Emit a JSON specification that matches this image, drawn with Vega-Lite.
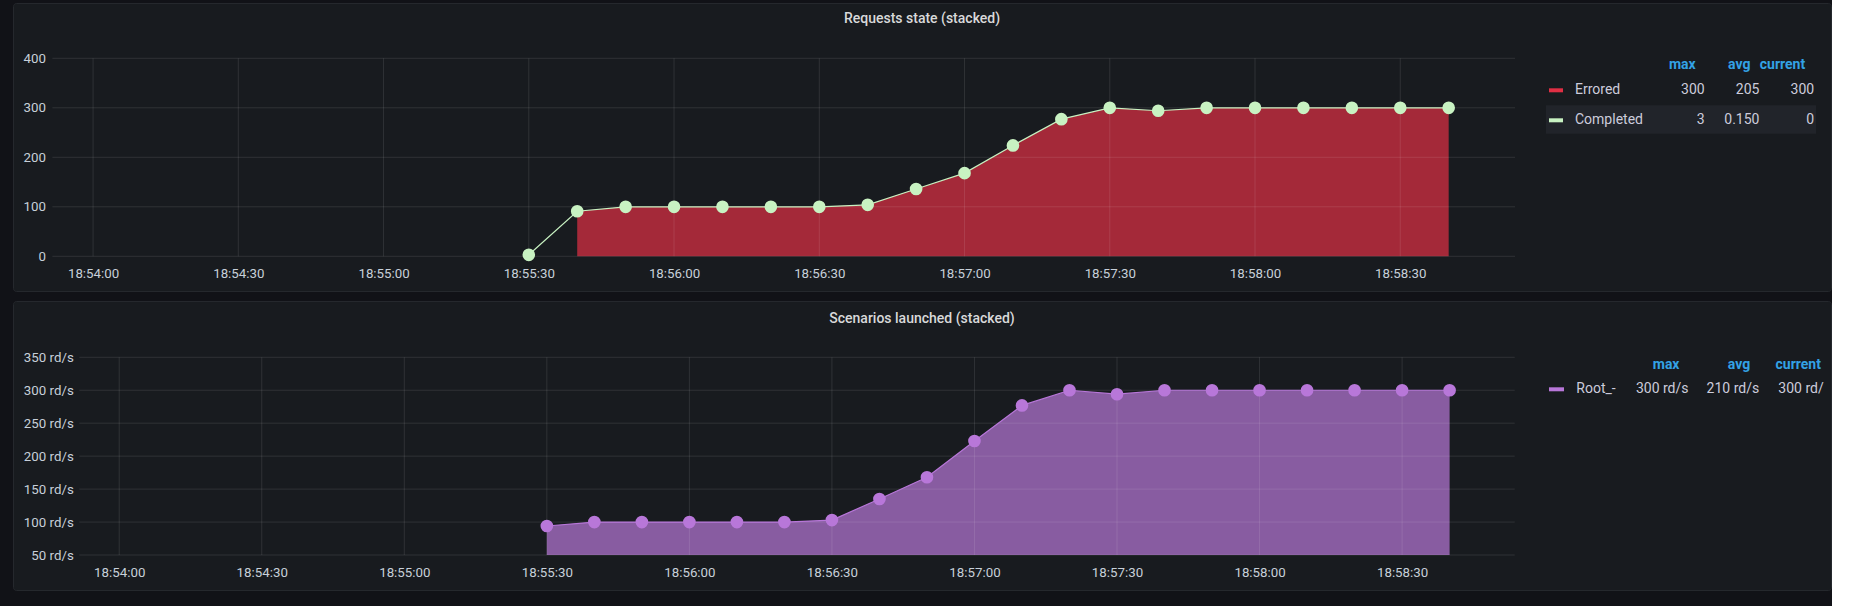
{
  "$schema": "https://vega.github.io/schema/vega-lite/v6.json",
  "background": "#111217",
  "padding": {"left": 12, "top": 2, "right": 0, "bottom": 0},
  "spacing": 8,
  "datasets": {
    "req": [
      {"t": "2021-06-01T18:55:30", "series": "Completed", "v": 3},
      {"t": "2021-06-01T18:55:40", "series": "Errored", "v": 91},
      {"t": "2021-06-01T18:55:50", "series": "Errored", "v": 100},
      {"t": "2021-06-01T18:56:00", "series": "Errored", "v": 100},
      {"t": "2021-06-01T18:56:10", "series": "Errored", "v": 100},
      {"t": "2021-06-01T18:56:20", "series": "Errored", "v": 100},
      {"t": "2021-06-01T18:56:30", "series": "Errored", "v": 100},
      {"t": "2021-06-01T18:56:40", "series": "Errored", "v": 104},
      {"t": "2021-06-01T18:56:50", "series": "Errored", "v": 136},
      {"t": "2021-06-01T18:57:00", "series": "Errored", "v": 168},
      {"t": "2021-06-01T18:57:10", "series": "Errored", "v": 224},
      {"t": "2021-06-01T18:57:20", "series": "Errored", "v": 277},
      {"t": "2021-06-01T18:57:30", "series": "Errored", "v": 300},
      {"t": "2021-06-01T18:57:40", "series": "Errored", "v": 294},
      {"t": "2021-06-01T18:57:50", "series": "Errored", "v": 300},
      {"t": "2021-06-01T18:58:00", "series": "Errored", "v": 300},
      {"t": "2021-06-01T18:58:10", "series": "Errored", "v": 300},
      {"t": "2021-06-01T18:58:20", "series": "Errored", "v": 300},
      {"t": "2021-06-01T18:58:30", "series": "Errored", "v": 300},
      {"t": "2021-06-01T18:58:40", "series": "Errored", "v": 300},
      {"t": "2021-06-01T18:55:40", "series": "Completed", "v": 0},
      {"t": "2021-06-01T18:55:50", "series": "Completed", "v": 0},
      {"t": "2021-06-01T18:56:00", "series": "Completed", "v": 0},
      {"t": "2021-06-01T18:56:10", "series": "Completed", "v": 0},
      {"t": "2021-06-01T18:56:20", "series": "Completed", "v": 0},
      {"t": "2021-06-01T18:56:30", "series": "Completed", "v": 0},
      {"t": "2021-06-01T18:56:40", "series": "Completed", "v": 0},
      {"t": "2021-06-01T18:56:50", "series": "Completed", "v": 0},
      {"t": "2021-06-01T18:57:00", "series": "Completed", "v": 0},
      {"t": "2021-06-01T18:57:10", "series": "Completed", "v": 0},
      {"t": "2021-06-01T18:57:20", "series": "Completed", "v": 0},
      {"t": "2021-06-01T18:57:30", "series": "Completed", "v": 0},
      {"t": "2021-06-01T18:57:40", "series": "Completed", "v": 0},
      {"t": "2021-06-01T18:57:50", "series": "Completed", "v": 0},
      {"t": "2021-06-01T18:58:00", "series": "Completed", "v": 0},
      {"t": "2021-06-01T18:58:10", "series": "Completed", "v": 0},
      {"t": "2021-06-01T18:58:20", "series": "Completed", "v": 0},
      {"t": "2021-06-01T18:58:30", "series": "Completed", "v": 0},
      {"t": "2021-06-01T18:58:40", "series": "Completed", "v": 0}
    ],
    "scen": [
      {"t": "2021-06-01T18:55:30", "v": 94},
      {"t": "2021-06-01T18:55:40", "v": 100},
      {"t": "2021-06-01T18:55:50", "v": 100},
      {"t": "2021-06-01T18:56:00", "v": 100},
      {"t": "2021-06-01T18:56:10", "v": 100},
      {"t": "2021-06-01T18:56:20", "v": 100},
      {"t": "2021-06-01T18:56:30", "v": 103},
      {"t": "2021-06-01T18:56:40", "v": 135},
      {"t": "2021-06-01T18:56:50", "v": 168},
      {"t": "2021-06-01T18:57:00", "v": 223},
      {"t": "2021-06-01T18:57:10", "v": 277},
      {"t": "2021-06-01T18:57:20", "v": 300},
      {"t": "2021-06-01T18:57:30", "v": 294},
      {"t": "2021-06-01T18:57:40", "v": 300},
      {"t": "2021-06-01T18:57:50", "v": 300},
      {"t": "2021-06-01T18:58:00", "v": 300},
      {"t": "2021-06-01T18:58:10", "v": 300},
      {"t": "2021-06-01T18:58:20", "v": 300},
      {"t": "2021-06-01T18:58:30", "v": 300},
      {"t": "2021-06-01T18:58:40", "v": 300}
    ],
    "xticks": [
      {"t": "2021-06-01T18:54:00"}, {"t": "2021-06-01T18:54:30"},
      {"t": "2021-06-01T18:55:00"}, {"t": "2021-06-01T18:55:30"},
      {"t": "2021-06-01T18:56:00"}, {"t": "2021-06-01T18:56:30"},
      {"t": "2021-06-01T18:57:00"}, {"t": "2021-06-01T18:57:30"},
      {"t": "2021-06-01T18:58:00"}, {"t": "2021-06-01T18:58:30"}
    ],
    "yticks1": [{"v": 0}, {"v": 100}, {"v": 200}, {"v": 300}, {"v": 400}],
    "yticks2": [{"v": 50}, {"v": 100}, {"v": 150}, {"v": 200}, {"v": 250}, {"v": 300}, {"v": 350}],
    "leg1": [
      {"row": "header", "col": "max", "text": "max"},
      {"row": "header", "col": "avg", "text": "avg"},
      {"row": "header", "col": "current", "text": "current"},
      {"row": "Errored", "col": "name", "text": "Errored"},
      {"row": "Errored", "col": "max", "text": "300"},
      {"row": "Errored", "col": "avg", "text": "205"},
      {"row": "Errored", "col": "current", "text": "300"},
      {"row": "Completed", "col": "name", "text": "Completed"},
      {"row": "Completed", "col": "max", "text": "3"},
      {"row": "Completed", "col": "avg", "text": "0.150"},
      {"row": "Completed", "col": "current", "text": "0"}
    ],
    "leg2": [
      {"row": "header", "col": "max", "text": "max"},
      {"row": "header", "col": "avg", "text": "avg"},
      {"row": "header", "col": "current", "text": "current"},
      {"row": "Root_-", "col": "name", "text": "Root_-"},
      {"row": "Root_-", "col": "max", "text": "300 rd/s"},
      {"row": "Root_-", "col": "avg", "text": "210 rd/s"},
      {"row": "Root_-", "col": "current", "text": "300 rd/s"}
    ]
  },
  "vconcat": [
    {
      "width": 1818,
      "height": 288,
      "title": {"text": "Requests state (stacked)", "offset": -23},
      "resolve": {"scale": {"x": "independent", "y": "independent"}, "axis": {"x": "independent", "y": "independent"}},
      "layer": [
        {
          "layer": [
            {
              "data": {"name": "req"},
              "transform": [
                {"stack": "v", "groupby": ["t"], "sort": [{"field": "series", "order": "descending"}], "as": ["v0", "v1"]},
                {"filter": "datum.series == 'Errored'"}
              ],
              "mark": {"type": "area", "color": "#E02F44", "fillOpacity": 0.7, "opacity": 1},
              "encoding": {
                "x": {"field": "t", "type": "temporal",
                  "scale": {"domain": [{"year": 2021, "month": 6, "date": 1, "hours": 18, "minutes": 53, "seconds": 51, "milliseconds": 600}, {"year": 2021, "month": 6, "date": 1, "hours": 18, "minutes": 58, "seconds": 53, "milliseconds": 700}], "range": [39.4, 1502]},
                  "axis": {"title": null, "format": "%H:%M:%S", "offset": -34.7, "labelPadding": 10,
                    "values": [
                      {"year": 2021, "month": 6, "date": 1, "hours": 18, "minutes": 54, "seconds": 0},
                      {"year": 2021, "month": 6, "date": 1, "hours": 18, "minutes": 54, "seconds": 30},
                      {"year": 2021, "month": 6, "date": 1, "hours": 18, "minutes": 55, "seconds": 0},
                      {"year": 2021, "month": 6, "date": 1, "hours": 18, "minutes": 55, "seconds": 30},
                      {"year": 2021, "month": 6, "date": 1, "hours": 18, "minutes": 56, "seconds": 0},
                      {"year": 2021, "month": 6, "date": 1, "hours": 18, "minutes": 56, "seconds": 30},
                      {"year": 2021, "month": 6, "date": 1, "hours": 18, "minutes": 57, "seconds": 0},
                      {"year": 2021, "month": 6, "date": 1, "hours": 18, "minutes": 57, "seconds": 30},
                      {"year": 2021, "month": 6, "date": 1, "hours": 18, "minutes": 58, "seconds": 0},
                      {"year": 2021, "month": 6, "date": 1, "hours": 18, "minutes": 58, "seconds": 30}
                    ]}},
                "y": {"field": "v1", "type": "quantitative",
                  "scale": {"domain": [0, 400], "range": [253.3, 55.3], "nice": false, "zero": false},
                  "axis": {"title": null, "values": [0, 100, 200, 300, 400], "offset": -39.4, "labelPadding": 7}},
                "y2": {"field": "v0"}
              }
            },
            {
              "data": {"name": "xticks"},
              "mark": {"type": "rule", "color": "#ffffff", "opacity": 0.1, "strokeWidth": 1},
              "encoding": {
                "x": {"field": "t", "type": "temporal"},
                "y": {"datum": 0, "type": "quantitative"},
                "y2": {"datum": 400}
              }
            },
            {
              "data": {"name": "yticks1"},
              "mark": {"type": "rule", "color": "#ffffff", "opacity": 0.1, "strokeWidth": 1},
              "encoding": {
                "y": {"field": "v", "type": "quantitative"},
                "x": {"datum": {"year": 2021, "month": 6, "date": 1, "hours": 18, "minutes": 53, "seconds": 51, "milliseconds": 600}, "type": "temporal"},
                "x2": {"datum": {"year": 2021, "month": 6, "date": 1, "hours": 18, "minutes": 58, "seconds": 53, "milliseconds": 700}}
              }
            },
            {
              "data": {"name": "req"},
              "transform": [
                {"stack": "v", "groupby": ["t"], "sort": [{"field": "series", "order": "descending"}], "as": ["v0", "v1"]},
                {"filter": "datum.series == 'Completed'"}
              ],
              "mark": {"type": "line", "color": "#C8F2C2", "strokeWidth": 1.2},
              "encoding": {
                "x": {"field": "t", "type": "temporal"},
                "y": {"field": "v1", "type": "quantitative"}
              }
            },
            {
              "data": {"name": "req"},
              "transform": [
                {"stack": "v", "groupby": ["t"], "sort": [{"field": "series", "order": "descending"}], "as": ["v0", "v1"]},
                {"filter": "datum.series == 'Completed'"}
              ],
              "mark": {"type": "point", "filled": true, "color": "#C8F2C2", "opacity": 1, "size": 160},
              "encoding": {
                "x": {"field": "t", "type": "temporal"},
                "y": {"field": "v1", "type": "quantitative"}
              }
            }
          ]
        },
        {
          "layer": [
            {
              "data": {"values": [{"row": "Completed", "from": "name", "to": "current"}]},
              "mark": {"type": "rule", "color": "#21242a", "strokeWidth": 28.4, "xOffset": -104, "x2Offset": 1.8, "yOffset": -0.8},
              "encoding": {
                "x": {"field": "from", "type": "nominal", "scale": {"type": "point", "domain": ["name", "max", "avg", "current"], "range": [1637, 1801.2], "padding": 0}, "axis": null},
                "x2": {"field": "to"},
                "y": {"field": "row", "type": "nominal", "scale": {"type": "point", "domain": ["header", "Errored", "Completed"], "range": [57.3, 117.3], "padding": 0}, "axis": null}
              }
            },
            {
              "data": {"name": "leg1"},
              "transform": [{"filter": "datum.col == 'name'"}],
              "mark": {"type": "rule", "strokeWidth": 4, "xOffset": -101, "x2Offset": -87},
              "encoding": {
                "x": {"field": "col", "type": "nominal"},
                "x2": {"field": "col"},
                "y": {"field": "row", "type": "nominal"},
                "color": {"field": "row", "type": "nominal", "scale": {"domain": ["Errored", "Completed"], "range": ["#E02F44", "#C8F2C2"]}, "legend": null}
              }
            },
            {
              "data": {"name": "leg1"},
              "transform": [{"filter": "datum.col == 'name'"}],
              "mark": {"type": "text", "align": "left", "baseline": "middle", "dx": -75, "fontSize": 14, "color": "#ccccdc"},
              "encoding": {
                "x": {"field": "col", "type": "nominal"},
                "y": {"field": "row", "type": "nominal"},
                "text": {"field": "text"}
              }
            },
            {
              "data": {"name": "leg1"},
              "transform": [{"filter": "datum.col != 'name' && datum.row != 'header'"}],
              "mark": {"type": "text", "align": "right", "baseline": "middle", "fontSize": 14, "color": "#ccccdc"},
              "encoding": {
                "x": {"field": "col", "type": "nominal"},
                "y": {"field": "row", "type": "nominal"},
                "text": {"field": "text"}
              }
            },
            {
              "data": {"name": "leg1"},
              "transform": [{"filter": "datum.row == 'header'"}],
              "mark": {"type": "text", "align": "right", "baseline": "middle", "dx": -9, "dy": 5, "fontSize": 14, "fontWeight": "bold", "color": "#33A2E5"},
              "encoding": {
                "x": {"field": "col", "type": "nominal"},
                "y": {"field": "row", "type": "nominal"},
                "text": {"field": "text"}
              }
            }
          ]
        }
      ]
    },
    {
      "width": 1818,
      "height": 289,
      "title": {"text": "Scenarios launched (stacked)", "offset": -25},
      "resolve": {"scale": {"x": "independent", "y": "independent"}, "axis": {"x": "independent", "y": "independent"}},
      "layer": [
        {
          "layer": [
            {
              "data": {"name": "scen"},
              "mark": {"type": "area", "color": "#B877D9", "fillOpacity": 0.7, "opacity": 1},
              "encoding": {
                "x": {"field": "t", "type": "temporal",
                  "scale": {"domain": [{"year": 2021, "month": 6, "date": 1, "hours": 18, "minutes": 53, "seconds": 51, "milliseconds": 600}, {"year": 2021, "month": 6, "date": 1, "hours": 18, "minutes": 58, "seconds": 53, "milliseconds": 700}], "range": [66.3, 1501.7]},
                  "axis": {"title": null, "format": "%H:%M:%S", "offset": -35, "labelPadding": 10,
                    "values": [
                      {"year": 2021, "month": 6, "date": 1, "hours": 18, "minutes": 54, "seconds": 0},
                      {"year": 2021, "month": 6, "date": 1, "hours": 18, "minutes": 54, "seconds": 30},
                      {"year": 2021, "month": 6, "date": 1, "hours": 18, "minutes": 55, "seconds": 0},
                      {"year": 2021, "month": 6, "date": 1, "hours": 18, "minutes": 55, "seconds": 30},
                      {"year": 2021, "month": 6, "date": 1, "hours": 18, "minutes": 56, "seconds": 0},
                      {"year": 2021, "month": 6, "date": 1, "hours": 18, "minutes": 56, "seconds": 30},
                      {"year": 2021, "month": 6, "date": 1, "hours": 18, "minutes": 57, "seconds": 0},
                      {"year": 2021, "month": 6, "date": 1, "hours": 18, "minutes": 57, "seconds": 30},
                      {"year": 2021, "month": 6, "date": 1, "hours": 18, "minutes": 58, "seconds": 0},
                      {"year": 2021, "month": 6, "date": 1, "hours": 18, "minutes": 58, "seconds": 30}
                    ]}},
                "y": {"field": "v", "type": "quantitative",
                  "scale": {"domain": [50, 350], "range": [254, 56.3], "nice": false, "zero": false},
                  "axis": {"title": null, "values": [50, 100, 150, 200, 250, 300, 350], "labelExpr": "datum.value + ' rd/s'", "offset": -66.3, "labelPadding": 6}},
                "y2": {"datum": 50}
              }
            },
            {
              "data": {"name": "xticks"},
              "mark": {"type": "rule", "color": "#ffffff", "opacity": 0.1, "strokeWidth": 1},
              "encoding": {
                "x": {"field": "t", "type": "temporal"},
                "y": {"datum": 50, "type": "quantitative"},
                "y2": {"datum": 350}
              }
            },
            {
              "data": {"name": "yticks2"},
              "mark": {"type": "rule", "color": "#ffffff", "opacity": 0.1, "strokeWidth": 1},
              "encoding": {
                "y": {"field": "v", "type": "quantitative"},
                "x": {"datum": {"year": 2021, "month": 6, "date": 1, "hours": 18, "minutes": 53, "seconds": 51, "milliseconds": 600}, "type": "temporal"},
                "x2": {"datum": {"year": 2021, "month": 6, "date": 1, "hours": 18, "minutes": 58, "seconds": 53, "milliseconds": 700}}
              }
            },
            {
              "data": {"name": "scen"},
              "mark": {"type": "line", "color": "#B877D9", "strokeWidth": 1.2},
              "encoding": {
                "x": {"field": "t", "type": "temporal"},
                "y": {"field": "v", "type": "quantitative"}
              }
            },
            {
              "data": {"name": "scen"},
              "mark": {"type": "point", "filled": true, "color": "#B877D9", "opacity": 1, "size": 160},
              "encoding": {
                "x": {"field": "t", "type": "temporal"},
                "y": {"field": "v", "type": "quantitative"}
              }
            }
          ]
        },
        {
          "layer": [
            {
              "data": {"name": "leg2"},
              "transform": [{"filter": "datum.col == 'name'"}],
              "mark": {"type": "rule", "strokeWidth": 4, "color": "#B877D9", "xOffset": -68.8, "x2Offset": -53.8},
              "encoding": {
                "x": {"field": "col", "type": "nominal", "scale": {"type": "point", "domain": ["name", "max", "avg", "current"], "range": [1604.8, 1816.9], "padding": 0}, "axis": null},
                "x2": {"field": "col"},
                "y": {"field": "row", "type": "nominal", "scale": {"type": "point", "domain": ["header", "Root_-"], "range": [58.3, 88.3], "padding": 0}, "axis": null}
              }
            },
            {
              "data": {"name": "leg2"},
              "transform": [{"filter": "datum.col == 'name'"}],
              "mark": {"type": "text", "align": "left", "baseline": "middle", "dx": -41.5, "fontSize": 14, "color": "#ccccdc"},
              "encoding": {
                "x": {"field": "col", "type": "nominal"},
                "y": {"field": "row", "type": "nominal"},
                "text": {"field": "text"}
              }
            },
            {
              "data": {"name": "leg2"},
              "transform": [{"filter": "(datum.col == 'max' || datum.col == 'avg') && datum.row != 'header'"}],
              "mark": {"type": "text", "align": "right", "baseline": "middle", "fontSize": 14, "color": "#ccccdc"},
              "encoding": {
                "x": {"field": "col", "type": "nominal"},
                "y": {"field": "row", "type": "nominal"},
                "text": {"field": "text"}
              }
            },
            {
              "data": {"name": "leg2"},
              "transform": [{"filter": "datum.col == 'current' && datum.row != 'header'"}],
              "mark": {"type": "text", "align": "left", "baseline": "middle", "dx": -51.6, "limit": 48, "ellipsis": "\u200b", "fontSize": 14, "color": "#ccccdc"},
              "encoding": {
                "x": {"field": "col", "type": "nominal"},
                "y": {"field": "row", "type": "nominal"},
                "text": {"field": "text"}
              }
            },
            {
              "data": {"name": "leg2"},
              "transform": [{"filter": "datum.row == 'header'"}],
              "mark": {"type": "text", "align": "right", "baseline": "middle", "dx": -9, "dy": 5.4, "fontSize": 14, "fontWeight": "bold", "color": "#33A2E5"},
              "encoding": {
                "x": {"field": "col", "type": "nominal"},
                "y": {"field": "row", "type": "nominal"},
                "text": {"field": "text"}
              }
            }
          ]
        }
      ]
    },
    {
      "width": 1818,
      "height": 30,
      "data": {"values": [{}]},
      "mark": {"type": "rule", "opacity": 0},
      "encoding": {}
    }
  ],
  "config": {
    "font": "Roboto",
    "view": {"fill": "#181b1f", "stroke": "#25282d", "cornerRadius": 3},
    "title": {"color": "#d8d9da", "fontSize": 14, "fontWeight": 500, "anchor": "middle", "frame": "group"},
    "axis": {"grid": false, "domain": false, "ticks": false, "tickSize": 0, "labelColor": "#c7d0d9", "labelFontSize": 13.3, "labelFont": "Roboto", "labelFlush": false}
  }
}
